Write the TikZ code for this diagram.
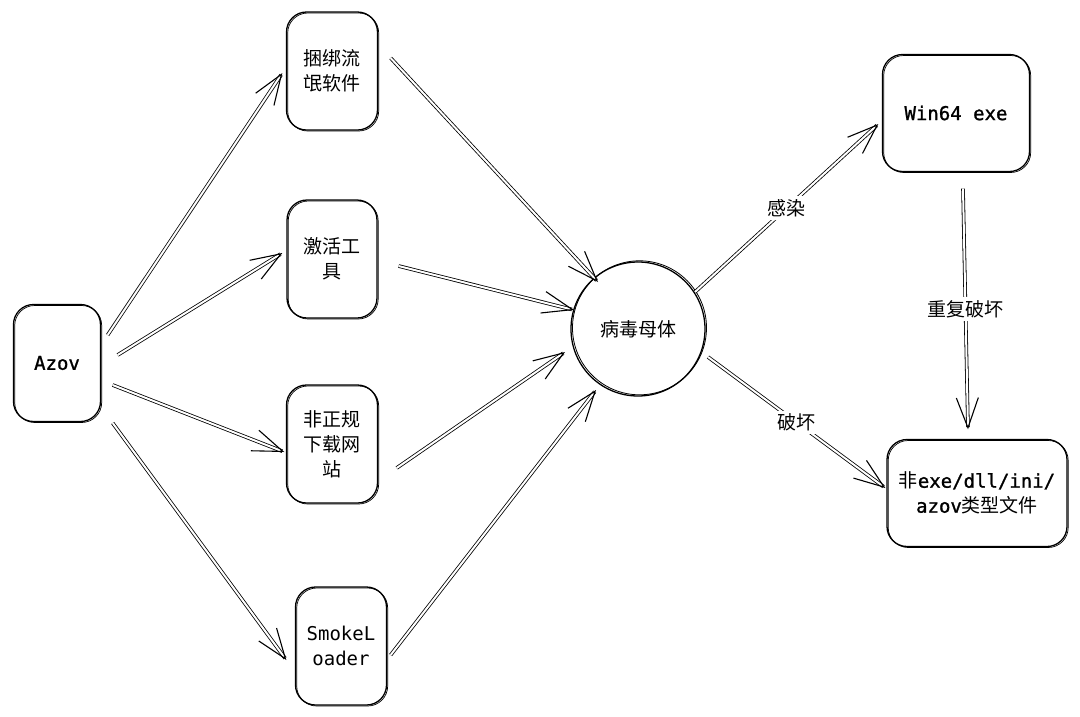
\documentclass[tikz,border=0pt]{standalone}
\usepackage{fontspec}
\setmainfont{Noto Sans CJK SC}
\newfontfamily\mono[FakeBold=1.2]{DejaVu Sans Mono}
\newfontfamily\monoreg{DejaVu Sans Mono}
\usetikzlibrary{arrows.meta}
\begin{document}
\begin{tikzpicture}[x=1pt,y=-1pt,
  every node/.style={font=\fontsize{19}{25}\selectfont, align=center},
  box/.style={draw, line width=1.3pt, rounded corners=20pt, inner sep=0pt,
    postaction={draw, line width=0.7pt, transform canvas={xshift=1.2pt,yshift=-1pt}}},
  ball/.style={draw, circle, line width=1.3pt, inner sep=0pt,
    postaction={draw, line width=0.8pt, transform canvas={xshift=1.5pt,yshift=1.2pt}}},
  conn/.style={line width=0.8pt, double=white, double distance=2pt,
    -{Straight Barb[length=30pt,width=22pt,line width=1.1pt]}},
  lbl/.style={fill=white, inner sep=3pt}
]
\useasboundingbox (0,0) rectangle (1080,716);
\node[box, minimum width=87pt, minimum height=117pt] (azov) at (57,363) {\mono Azov};
\node[box, minimum width=91pt, minimum height=118pt] (b1) at (332,71) {捆绑流\\氓软件};
\node[box, minimum width=90pt, minimum height=118pt] (b2) at (332,259) {激活工\\具};
\node[box, minimum width=91pt, minimum height=118pt] (b3) at (332,444) {非正规\\下载网\\站};
\node[box, minimum width=91pt, minimum height=118pt] (b4) at (341,646) {\monoreg SmokeL\\\monoreg oader};
\node[ball, minimum size=134pt] (virus) at (638,329) {病毒母体};
\node[box, minimum width=147pt, minimum height=117pt] (win) at (956,113) {\mono Win64 exe};
\node[box, minimum width=180pt, minimum height=107pt] (dst) at (977,493) {非{\mono exe/dll/ini/}\\{\mono azov}类型文件};

\draw[conn] ([shift={(6.5,-28)}]azov.east) -- ([shift={(-3.5,2)}]b1.west);
\draw[conn] ([shift={(16.5,-8)}]azov.east) -- ([shift={(-4,-6)}]b2.west);
\draw[conn] ([shift={(11.5,22)}]azov.east) -- ([shift={(-1.5,8)}]b3.west);
\draw[conn] ([shift={(11.5,60)}]azov.east) -- ([shift={(-8.5,14)}]b4.west);

\draw[conn] ([shift={(12.5,-13)}]b1.east) -- ([shift={(-40,-47)}]virus.center);
\draw[conn] ([shift={(21,7)}]b2.east) -- ([shift={(-64,-19)}]virus.center);
\draw[conn] ([shift={(18.5,24)}]b3.east) -- ([shift={(-73,23)}]virus.center);
\draw[conn] ([shift={(3.5,9)}]b4.east) -- ([shift={(-42,61)}]virus.center);

\draw[conn] ([shift={(57,-37)}]virus.center) -- node[lbl]{感染} ([shift={(-3.5,11)}]win.west);
\draw[conn] ([shift={(70,28)}]virus.center) -- node[lbl]{破坏} ([shift={(-1,-5)}]dst.west);
\draw[conn] ([shift={(7,16.5)}]win.south) -- node[lbl]{重复破坏} ([shift={(-9,-9.5)}]dst.north);
\end{tikzpicture}
\end{document}
